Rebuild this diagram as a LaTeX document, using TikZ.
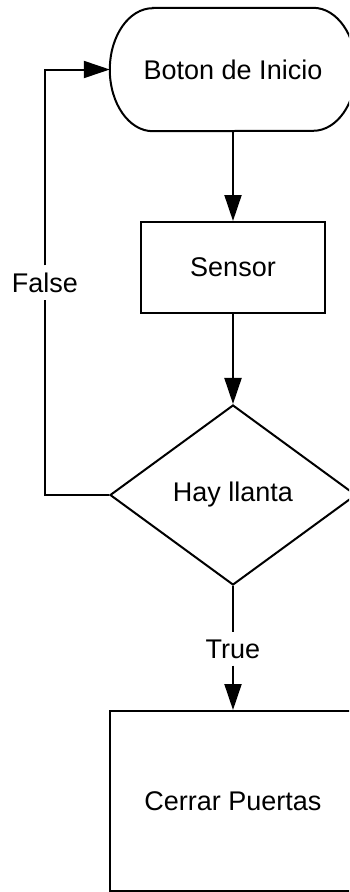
\documentclass[tikz,border=0pt]{standalone}
\usepackage{fontspec}
\setmainfont{Liberation Sans}
\usetikzlibrary{arrows.meta,shapes.geometric}
\begin{document}
\begin{tikzpicture}[x=1pt,y=1pt,
  line/.style={line width=2pt},
  box/.style={draw, line width=2pt, inner sep=0pt},
  arr/.style={line width=2pt, -{Triangle[length=26pt,width=17pt]}},
  lbl/.style={inner xsep=3pt, inner ysep=7pt},
  font=\fontsize{27}{32}\selectfont]
\useasboundingbox (0,0) rectangle (349,-892);
\clip (0,0) rectangle (349,-892);
% start terminal with elliptical ends
\node[inner sep=0pt, minimum width=246pt, minimum height=123pt] (start) at (233,-69.5) {Boton de Inicio};
\draw[line] ([xshift=43pt]start.north west) -- ([xshift=-43pt]start.north east)
  arc[start angle=90, end angle=-90, x radius=43pt, y radius=61.5pt]
  -- ([xshift=43pt]start.south west)
  arc[start angle=270, end angle=90, x radius=43pt, y radius=61.5pt] -- cycle;
% process steps and decision
\node[box, minimum width=184pt, minimum height=91pt] (sensor) at (233,-267.5) {Sensor};
\node[box, diamond, minimum width=246pt, minimum height=180pt] (check) at (233,-495) {Hay llanta};
\node[box, minimum width=246pt, minimum height=180pt] (close) at (233,-801) {Cerrar Puertas};
% branch labels, the lines stop at them
\node[lbl] (lbltrue) at (233,-649) {True};
\node[lbl] (lblfalse) at (45,-282.5) {False};
% connectors
\draw[arr] (start) -- (sensor);
\draw[arr] (sensor) -- (check);
\draw[line] (check) -- (lbltrue);
\draw[arr] (lbltrue) -- (close);
\draw[line] (check.west) -| (lblfalse);
\draw[arr] (lblfalse) |- (start.west);
\end{tikzpicture}
\end{document}
